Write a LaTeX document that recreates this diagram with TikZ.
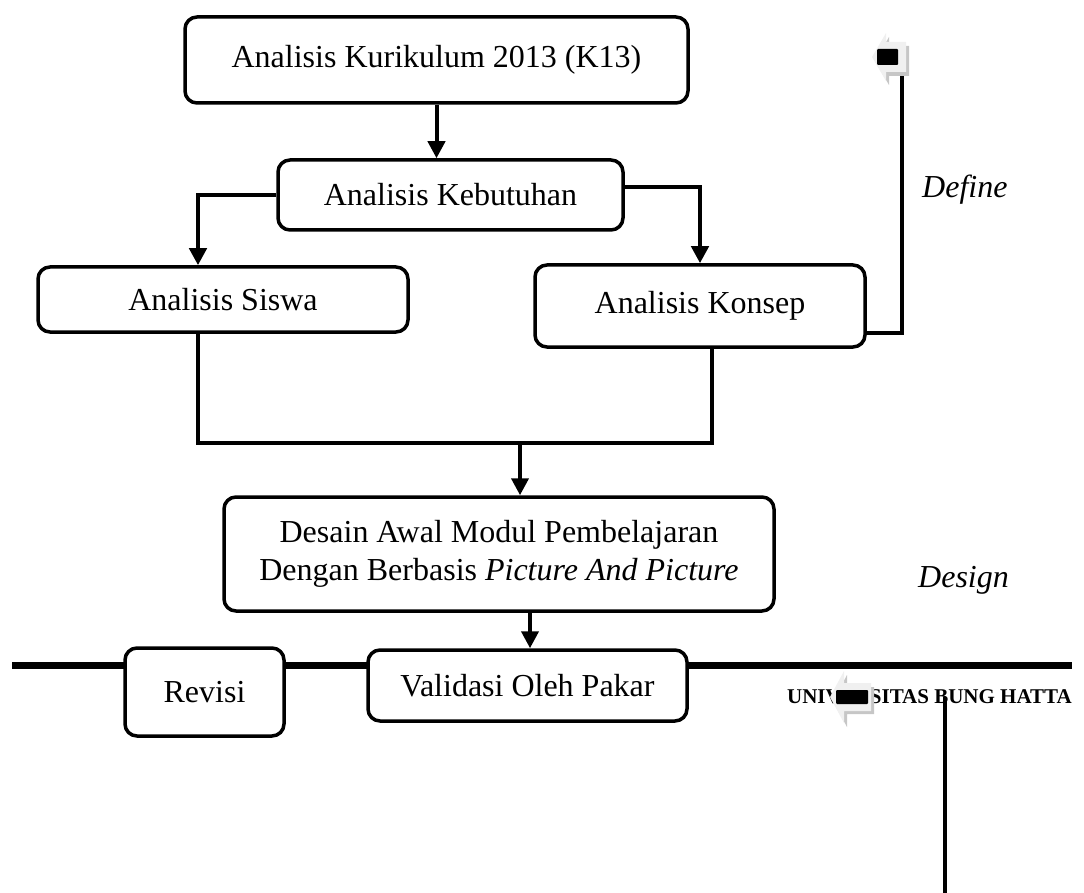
\documentclass[tikz,border=0pt]{standalone}
\usepackage{fontspec}
\setmainfont{Liberation Serif}
\usetikzlibrary{arrows.meta}
\tikzset{
  box/.style={draw, line width=3.5pt, rounded corners=12pt, fill=white, align=center,
    font=\fontsize{32}{38}\selectfont, inner sep=0pt},
  conn/.style={line width=4pt},
  arr/.style={conn, -{Triangle[length=17pt,width=17pt]}},
  thickline/.style={line width=7pt},
  lbl/.style={font=\fontsize{32}{38}\selectfont\itshape, inner sep=0pt, anchor=west},
  blockarrow/.pic={
    \fill[gray!45] (3,4) -- (17,-20) -- (17,-11) -- (37,-11) -- (37,19) -- (17,19) -- (17,28) -- cycle;
    \fill[gray!12] (0,0) -- (14,-24) -- (14,-15) -- (34,-15) -- (34,15) -- (14,15) -- (14,24) -- cycle;
    \fill[black, rounded corners=1pt] (5,-8) rectangle (26,8);
  },
  blockarrowlong/.pic={
    \fill[gray!45] (3,4) -- (17,-22) -- (17,-10) -- (44,-10) -- (44,17) -- (17,17) -- (17,30) -- cycle;
    \fill[gray!12] (0,0) -- (14,-26) -- (14,-14) -- (41,-14) -- (41,14) -- (14,14) -- (14,26) -- cycle;
    \fill[black, rounded corners=1pt] (6,-7) rectangle (38,7);
  }
}
\begin{document}
\begin{tikzpicture}[x=1pt,y=-1pt]
\useasboundingbox (0,0) rectangle (1084,893);
% long line behind the bottom row
\coordinate (L0) at (12,665);
\coordinate (R0) at (1072,665);
\draw[thickline] (L0) -- (R0);

\node[box, minimum width=503pt, minimum height=86pt] (k13) at (436.5,60) {Analisis Kurikulum 2013 (K13)};
\node[box, minimum width=345pt, minimum height=70pt] (keb) at (450.5,195) {Analisis Kebutuhan};
\node[box, minimum width=370pt, minimum height=65pt] (sis) at (223,299.5) {Analisis Siswa};
\node[box, minimum width=330pt, minimum height=82pt] (kon) at (700,306) {Analisis Konsep};
\node[box, minimum width=550pt, minimum height=114pt] (des) at (499,554) {Desain Awal Modul Pembelajaran\\Dengan Berbasis \textit{Picture And Picture}};
\node[box, minimum width=319pt, minimum height=71pt] (val) at (527.5,685.5) {Validasi Oleh Pakar};
\node[box, minimum width=159pt, minimum height=88pt] (rev) at (204.5,692) {Revisi};

\node[lbl] (define) at (922,190) {Define};
\node[lbl] (design) at (918,580) {Design};

% connectors
\draw[arr] (k13.south) -- (k13.south |- keb.north);
\draw[arr, line width=4.5pt] (keb.west) -| ([xshift=-25pt]sis.north);
\draw[arr, line width=4.5pt] ([yshift=8pt]keb.east) -| (kon.north);
\coordinate (j) at (520,443);
\draw[conn] ([xshift=-25pt]sis.south) |- ([xshift=12pt]kon.south |- j) -- ([xshift=12pt]kon.south);
\draw[arr] (j) -- (j |- des.north);
\draw[arr] ([xshift=31pt]des.south) -- ([xshift=31pt]des.south |- val.north);

% define bracket
\coordinate (tr) at (902,73);
\draw[conn] ([yshift=-27pt]kon.east) -| (tr);
\pic (ba1) at (872,57) {blockarrow};

% bottom label and arrow
\node[font=\fontsize{21}{25}\selectfont\bfseries, anchor=east, inner sep=0pt] (ubh) at (1072,697) {UNIVERSITAS BUNG HATTA};
\pic (ba2) at (830,697) {blockarrowlong};
\coordinate (bt) at (945,697);
\coordinate (bb) at (945,893);
\draw[line width=3.5pt] (bt) -- (bb);
\end{tikzpicture}
\end{document}
